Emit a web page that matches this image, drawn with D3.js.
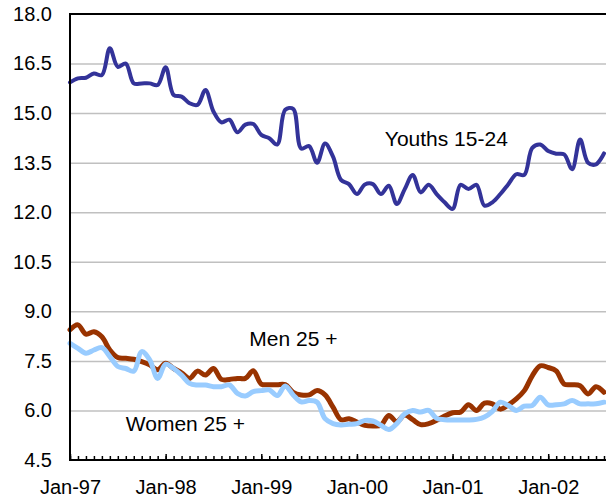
<!DOCTYPE html>
<html lang="en">
  <head>
    <meta charset="utf-8" />
    <script type="text/javascript" src="https://d3js.org/d3.v7.min.js"></script>
    <style>
      body { margin: 0; background: #fff; }
      text { font-family: "Liberation Sans", Arial, sans-serif; fill: #000; }
    </style>
  </head>

  <body>
    <script type="text/javascript">
      let w = 606;
      let h = 502;

      // monthly categories, Jan-97 .. Aug-02
      let months = d3
        .timeMonths(new Date(1997, 0, 1), new Date(2002, 8, 1))
        .map(d3.timeFormat("%b-%y"));
      let tickLabels = ["Jan-97", "Jan-98", "Jan-99", "Jan-00", "Jan-01", "Jan-02"];
      let yTicks = [4.5, 6.0, 7.5, 9.0, 10.5, 12.0, 13.5, 15.0, 16.5, 18.0];

      let youths = [
        15.93, 16.05, 16.07, 16.2, 16.15, 16.96, 16.4, 16.5, 15.9, 15.9, 15.9, 15.85,
        16.39, 15.55, 15.5, 15.3, 15.25, 15.7, 15.05, 14.72, 14.8, 14.42, 14.65, 14.67,
        14.34, 14.24, 14.05, 15.1, 15.13, 13.93, 14.0, 13.5, 14.08, 13.68, 12.98, 12.85,
        12.55, 12.84, 12.85, 12.55, 12.8, 12.25, 12.7, 13.13, 12.6, 12.83, 12.55, 12.3,
        12.1, 12.83, 12.7, 12.83, 12.2, 12.3, 12.55, 12.85, 13.15, 13.13, 13.95, 14.05,
        13.85, 13.77, 13.75, 13.3, 14.2, 13.5, 13.45, 13.78,
      ];
      let men = [
        8.44, 8.59, 8.31, 8.38, 8.23, 7.83, 7.6, 7.58, 7.55, 7.48, 7.38, 7.23,
        7.43, 7.27, 7.14, 6.97, 7.19, 7.07, 7.27, 6.94, 6.94, 6.97, 6.97, 7.2,
        6.8, 6.78, 6.78, 6.78, 6.55, 6.47, 6.47, 6.6, 6.47, 6.1, 5.72, 5.75,
        5.65, 5.55, 5.53, 5.55, 5.85, 5.66, 5.86, 5.72, 5.57, 5.6, 5.7, 5.83,
        5.93, 5.95, 6.17, 6.0, 6.22, 6.2, 6.04, 6.17, 6.35, 6.6, 7.05, 7.35,
        7.3, 7.2, 6.8, 6.78, 6.75, 6.5, 6.72, 6.55,
      ];
      let women = [
        8.03, 7.88, 7.73, 7.83, 7.9, 7.63, 7.33, 7.27, 7.19, 7.78, 7.53, 6.97,
        7.4, 7.27, 7.07, 6.82, 6.77, 6.77, 6.72, 6.72, 6.77, 6.52, 6.44, 6.57,
        6.6, 6.62, 6.45, 6.74, 6.47, 6.26, 6.3, 6.25, 5.75, 5.6, 5.56, 5.58,
        5.6, 5.7, 5.68, 5.55, 5.42, 5.6, 5.9, 6.0, 5.95, 6.0, 5.76, 5.72,
        5.71, 5.71, 5.71, 5.73, 5.8, 5.97, 6.25, 6.15, 6.0, 6.13, 6.15, 6.4,
        6.17, 6.17, 6.2, 6.3, 6.2, 6.2, 6.2, 6.25,
      ];

      let mLeft = 70, mRight = 604, mTop = 14, mBottom = 460;

      let svg = d3
        .select("body")
        .append("svg")
        .attr("width", w)
        .attr("height", h);

      let x = d3.scalePoint().domain(months).range([mLeft, mRight]);
      // same axis by month index, used to place the series labels
      let xi = d3.scaleLinear().domain([0, months.length - 1]).range([mLeft, mRight]);
      let y = d3.scaleLinear().domain([4.5, 18]).range([mBottom, mTop]);

      // gridlines
      svg
        .append("g")
        .attr("transform", "translate(" + mLeft + ",0)")
        .call(d3.axisLeft(y).tickValues(yTicks.slice(1, -1)).tickSize(-(w - mLeft)).tickFormat(""))
        .call((g) => g.select(".domain").remove())
        .selectAll("line")
        .attr("stroke", "#c0c0c0")
        .attr("stroke-width", 1.5);

      // y labels
      svg
        .append("g")
        .attr("transform", "translate(" + mLeft + ",0)")
        .call(d3.axisLeft(y).tickValues(yTicks).tickSize(0).tickPadding(18).tickFormat(d3.format(".1f")))
        .call((g) => g.select(".domain").remove())
        .selectAll("text")
        .attr("font-size", "20px")
        .attr("font-family", "Liberation Sans, Arial, sans-serif");

      // lines
      let line = (vals) =>
        d3
          .line()
          .x((d, i) => x(months[i]))
          .y((d) => y(d))
          .curve(d3.curveCatmullRom.alpha(0.5))(vals);

      let series = [
        { vals: men, color: "#993300", width: 5 },
        { vals: women, color: "#99ccff", width: 5 },
        { vals: youths, color: "#333399", width: 4 },
      ];
      svg
        .selectAll("path.series")
        .data(series)
        .join("path")
        .attr("class", "series")
        .attr("d", (d) => line(d.vals))
        .attr("fill", "none")
        .attr("stroke", (d) => d.color)
        .attr("stroke-width", (d) => d.width)
        .attr("stroke-linejoin", "round")
        .attr("stroke-linecap", "round");

      // frame: top border and left axis
      svg.append("line")
        .attr("x1", mLeft).attr("x2", w).attr("y1", y(18)).attr("y2", y(18))
        .attr("stroke", "#000").attr("stroke-width", 2);
      svg.append("line")
        .attr("x1", mLeft).attr("x2", mLeft).attr("y1", y(18) - 1).attr("y2", y(4.5) + 1)
        .attr("stroke", "#000").attr("stroke-width", 2);

      // x axis: minor ticks every month, major at January
      let xAxis = svg.append("g").attr("transform", "translate(0," + mBottom + ")");
      xAxis
        .call(d3.axisBottom(x).tickValues(months).tickSize(-4).tickSizeOuter(0).tickFormat(""))
        .call((g) => g.select(".domain").attr("d", "M" + mLeft + ",0H" + w).attr("stroke-width", 2))
        .selectAll("line")
        .attr("stroke-width", 1.5);

      svg
        .append("g")
        .attr("transform", "translate(0," + mBottom + ")")
        .call(d3.axisBottom(x).tickValues(tickLabels).tickSize(-6).tickPadding(20))
        .call((g) => g.select(".domain").remove())
        .call((g) => g.selectAll("line").attr("stroke-width", 1.5))
        .selectAll("text")
        .attr("font-size", "20px")
        .attr("font-family", "Liberation Sans, Arial, sans-serif");

      // series labels
      let labels = [
        { text: "Youths 15-24", m: 39.5, v: 14.0 },
        { text: "Men 25 +", m: 22.5, v: 7.95 },
        { text: "Women 25 +", m: 7.0, v: 5.38 },
      ];
      svg
        .selectAll("text.lbl")
        .data(labels)
        .join("text")
        .attr("class", "lbl")
        .attr("x", (d) => xi(d.m))
        .attr("y", (d) => y(d.v))
        .attr("font-size", "21px")
        .text((d) => d.text);
    </script>
  </body>
</html>
